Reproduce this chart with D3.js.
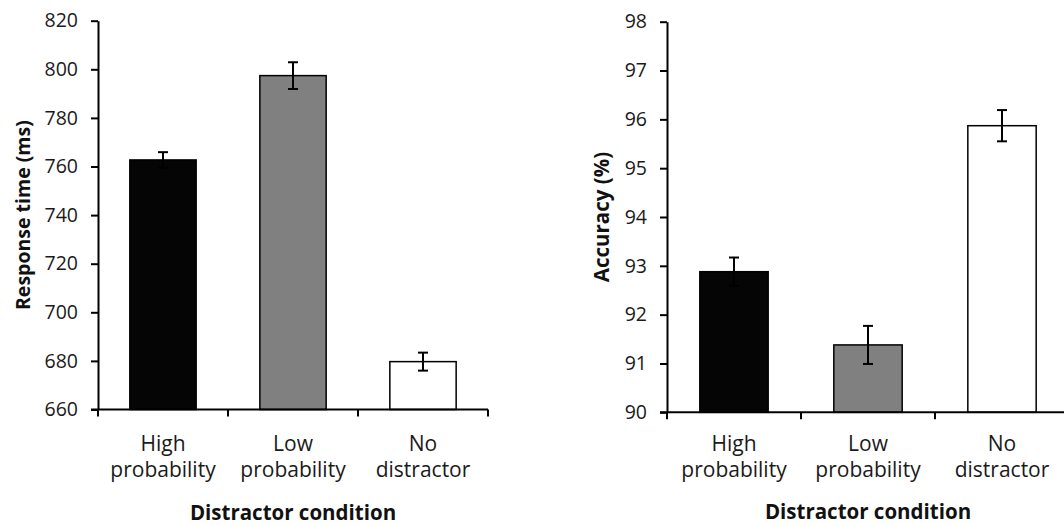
<!DOCTYPE html>
<html>
<head>
<meta charset="utf-8">
<script src="https://cdn.jsdelivr.net/npm/d3@7"></script>
<style>
  body { margin: 0; background: #fff; }
  svg { display: block; font-family: "Open Sans", sans-serif; }
</style>
</head>
<body>
<svg id="chart" width="1064" height="526"></svg>
<script>
'use strict';

const categories = [["High", "probability"], ["Low", "probability"], ["No", "distractor"]];
const barColors = ["#050505", "#808080", "#ffffff"];

const rtValues = [762.7, 797.4, 679.7];
const rtErrors = [3.2, 5.5, 3.7];
const rtTicks = [660, 680, 700, 720, 740, 760, 780, 800, 820];

const accValues = [92.88, 91.38, 95.87];
const accErrors = [0.29, 0.39, 0.32];
const accTicks = [90, 91, 92, 93, 94, 95, 96, 97, 98];

const svg = d3.select("#chart");

function drawPanel (opts) {
  let g = svg.append("g");

  let x = d3.scaleBand()
      .domain(d3.range(categories.length))
      .range([opts.x0, opts.x1])
      .paddingInner(0.49)
      .paddingOuter(0.245);

  let y = d3.scaleLinear()
      .domain([opts.ticks[0], opts.ticks[opts.ticks.length - 1]])
      .range([opts.yBottom, opts.yTop]);

  // bars
  g.selectAll("rect.bar")
    .data(opts.values)
    .enter().append("rect")
      .attr("class", "bar")
      .attr("x", (d, i) => x(i))
      .attr("width", x.bandwidth())
      .attr("y", d => y(d))
      .attr("height", d => y(opts.ticks[0]) - y(d))
      .attr("fill", (d, i) => barColors[i])
      .attr("stroke", "#000")
      .attr("stroke-width", 1.5);

  // error bars
  let eb = g.selectAll("g.err")
    .data(opts.values)
    .enter().append("g")
      .attr("class", "err")
      .attr("stroke", "#000")
      .attr("stroke-width", 2);

  eb.append("line")
    .attr("x1", (d, i) => x(i) + x.bandwidth() / 2)
    .attr("x2", (d, i) => x(i) + x.bandwidth() / 2)
    .attr("y1", (d, i) => y(d + opts.errors[i]))
    .attr("y2", (d, i) => y(d - opts.errors[i]));

  [1, -1].forEach(s => {
    eb.append("line")
      .attr("x1", (d, i) => x(i) + x.bandwidth() / 2 - 5)
      .attr("x2", (d, i) => x(i) + x.bandwidth() / 2 + 5)
      .attr("y1", (d, i) => y(d + s * opts.errors[i]))
      .attr("y2", (d, i) => y(d + s * opts.errors[i]));
  });

  // y axis
  let yAxis = g.append("g")
    .attr("transform", "translate(" + opts.x0 + ",0)")
    .call(d3.axisLeft(y).tickValues(opts.ticks).tickSize(7).tickPadding(13).tickSizeOuter(0));
  yAxis.select(".domain").attr("stroke-width", 2);
  yAxis.selectAll(".tick line").attr("stroke-width", 2);
  yAxis.selectAll("text").attr("font-size", 19.5).attr("fill", "#1a1a1a")
    .attr("font-family", "Open Sans, sans-serif");

  // x axis line and boundary ticks
  g.append("line")
    .attr("x1", opts.x0 - 7).attr("x2", opts.x1)
    .attr("y1", y(opts.ticks[0])).attr("y2", y(opts.ticks[0]))
    .attr("stroke", "#000").attr("stroke-width", 2);

  g.selectAll("line.xtick")
    .data(d3.range(categories.length + 1))
    .enter().append("line")
      .attr("class", "xtick")
      .attr("x1", i => opts.x0 + i * x.step())
      .attr("x2", i => opts.x0 + i * x.step())
      .attr("y1", y(opts.ticks[0]))
      .attr("y2", y(opts.ticks[0]) + 7)
      .attr("stroke", "#000").attr("stroke-width", 2);

  // category labels
  let lab = g.selectAll("text.cat")
    .data(categories)
    .enter().append("text")
      .attr("class", "cat")
      .attr("text-anchor", "middle")
      .attr("font-size", 21)
      .attr("fill", "#1a1a1a");
  lab.append("tspan")
    .attr("x", (d, i) => x(i) + x.bandwidth() / 2)
    .attr("y", 451)
    .text(d => d[0]);
  lab.append("tspan")
    .attr("x", (d, i) => x(i) + x.bandwidth() / 2)
    .attr("y", 477)
    .text(d => d[1]);

  // axis titles
  g.append("text")
    .attr("x", (opts.x0 + opts.titleRight) / 2)
    .attr("y", opts.titleY)
    .attr("text-anchor", "middle")
    .attr("font-size", 20.5)
    .attr("font-weight", "bold")
    .attr("fill", "#111")
    .text("Distractor condition");

  g.append("text")
    .attr("transform", "translate(" + opts.yTitleX + "," + ((opts.yTop + opts.yBottom) / 2) + ") rotate(-90)")
    .attr("text-anchor", "middle")
    .attr("font-size", opts.yTitleSize)
    .attr("font-weight", "bold")
    .attr("fill", "#111")
    .text(opts.yTitle);
}

drawPanel({
  values: rtValues, errors: rtErrors, ticks: rtTicks,
  x0: 98, x1: 488, titleRight: 488, titleY: 520, yTop: 20.7, yBottom: 409.5,
  yTitleX: 30, yTitleSize: 19.5, yTitle: "Response time (ms)"
});

drawPanel({
  values: accValues, errors: accErrors, ticks: accTicks,
  x0: 667, x1: 1069, titleRight: 1069, titleY: 519, yTop: 21.7, yBottom: 412.3,
  yTitleX: 609, yTitleSize: 20.5, yTitle: "Accuracy (%)"
});
</script>
</body>
</html>
